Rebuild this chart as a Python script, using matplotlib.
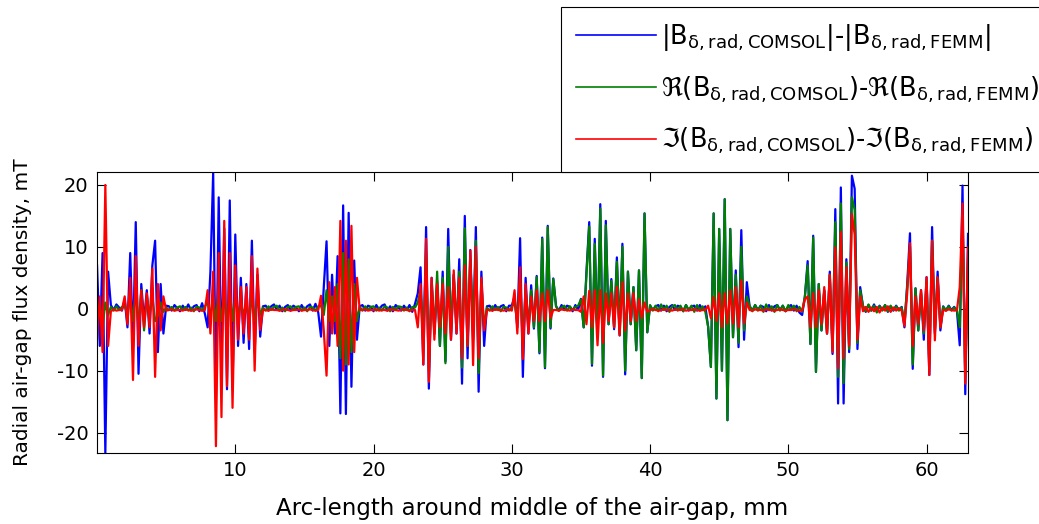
import numpy as np
import matplotlib
matplotlib.use("Agg")
from matplotlib import pyplot as plt

plt.rcParams['font.family'] = ['DejaVu Sans']
plt.rcParams['mathtext.fontset'] = 'custom'
plt.rcParams['mathtext.rm'] = 'DejaVu Sans'
plt.rcParams['mathtext.it'] = 'DejaVu Sans'
plt.rcParams['mathtext.bf'] = 'DejaVu Sans:bold'
plt.rcParams['axes.unicode_minus'] = False

# arc-length sampling step, mm
step_mm = 0.2

# |B_comsol| - |B_femm|, mT (one value every 0.2 mm, from 0 to 63 mm)
blue_mT = [
    7, -6, 9, -23.3, 6,                                                     # 0.0 - 0.8
    0.6, -0.2, 0.7, 0.2, -0.3,                                              # 1.0 - 1.8
    1.5, -3, 9, -6, 14, -10.5, 4, -2, 3, -4, 7, 11, -7, 4, -4, 0.5,         # 2.0 - 5.0
    0.4, -0.3, 0.6, 0.1, -0.4, 0.5, -0.2, 0.7, -0.3, 0.4, 0.6, -0.4, 0.9, -0.8,
    -3, 6, 22, -14.5, 18, -9, 13, -13, 17.5, -13, 12, -6, 5, -5.5, 4, -6.5, 11, -7, 5.5, -4.5, 0.4,
    0.5, -0.3, 0.4, 0.7, -0.2, 0.5, -0.4, 0.3, 0.6, -0.3, 0.5, 0.2, -0.4, 0.6, -0.2, 0.4, 0.7, -0.3, 0.8, -0.6,
    -4.5, 3.5, 10.9, -6, 5.5, -4, 8.5, -16.9, 16.7, -17, 15.5, -12.6, 7.8, -5, 0.4,
    0.6, -0.3, 0.5, 0.3, -0.4, 0.6, -0.2, 0.5, 0.7, -0.3, 0.4, -0.4, 0.6, 0.2, -0.3, 0.5, -0.2, 0.6, -0.5, 0.8,
    2.5, 6.7, -9, 13.2, -12.9, 5, -4, 4.5, -6, 6, -8.5, 12.9, -5, 5.5, -4, 8, -12.1, 15, -8, 9.5, -5, 13.2, -13.4, 6, -6, 0.4,
    0.5, -0.3, 0.6, -0.2, 0.4, 0.6, -0.4, 0.5,
    0.5, 2, -3, 11.4, -11, 5, -4, 3.8, -3.2, 5.3, -7.2, 11.5, -9.6, 13.4, -3.2, 4.9,
    0.4, -0.3, 0.6, -0.2, 0.5, 0.3, -0.4, 0.6, -0.2,
    1.6, -3, 6, 14, -9.2, 11.3, -4.6, 16.9, -11, 14.2, -2.5, 4.8, -3.3, 8.3, -4.3, 10.5, -10.6, 6, -2.5, 3.5, -6.7, 6.2, -11.2, 15.4, -3.8,
    0.5, -0.2, 0.4, 0.6, -0.3, 0.5, -0.4, 0.3, 0.6, -0.2, 0.5, 0.3, -0.4, 0.6, -0.3, 0.4, 0.5, -0.3, 0.6, -0.2, 0.4,
    -2.9, -9.4, 15.4, -14.5, 12.9, -10, 17.7, -18, 12.9, -4.6, 6.2, -6.2, 12.7, -5, 4.3,
    0.4, -0.3, 0.6, -0.2, 0.5, 0.3, -0.4, 0.6, -0.3, 0.4, 0.6, -0.2, 0.5, -0.4, 0.3, 0.6, -0.3, 0.5, -0.6,
    -1, 2, 7.7, -5.7, 11.8, -10.2, 4, -3.5, 3, -4, 6, -7.3, 16.1, -15.3, 19.6, -15.3, 8, -7, 21.5, 19.4, -6.5, 3.5,
    0.4, -0.5, 0.6, -0.3, 0.7, -0.4, 0.5, -0.2, 0.6, -0.5, 0.4, -0.3, 0.5, -0.2, 0.3,
    -3, 4, 12.2, -9.7, 3.3, -3.5, 3, -5, 5.1, -10.7, 13.2, -4, 6, -3.5,
    0.4, -0.3, 0.5, -0.2, 0.3, -0.4,
    -5.9, 19.9, -13.8, 12.1,                                                # 62.4 - 63.0
]

# Re(B_comsol) - Re(B_femm), mT
green_mT = [
    -2, 1, -3, 1, -1,
    0.3, -0.3, 0.4, -0.2, 0.3,
    0.5, -1, 2, -2, 3, -3, 3, -3.5, 2, -1, 2, -2, -1, 1, -0.5, 0.2,
    -0.2, 0.3, -0.3, 0.2, 0.4, -0.2, 0.3, -0.3, 0.2, -0.4, 0.3, 0.2, -0.3, 0.4,
    1, -1, 2, -2, 3, -2, 2, -3, 3, -2, 2, -1, 1, -1, 1, -2, 2, -2, 2, -1, 0.2,
    -0.3, 0.4, -0.2, 0.3, 0.5, -0.3, 0.2, -0.4, 0.3, 0.4, -0.2, 0.3, 0.4, -0.3, 0.2, -0.4, 0.3, 0.2, -0.3, 0.4,
    0.5, -1, 3, -2, 2, -2, 4, -8, 9, -9, 8, -7, 4, -2, 0.3,
    -0.3, 0.4, -0.2, 0.3, 0.4, -0.3, 0.2, -0.3, 0.4, 0.2, -0.4, 0.3, -0.2, 0.4, 0.3, -0.3, 0.2, -0.4, 0.3, 0.2,
    1, 3, -5, 9, -10, 4, -4, 6, -6, 5, -8.8, 10, -4, 5.5, -3, 6, -9.5, 13, -6, 8, -4, 11, -10.4, 4, -3, 0.2,
    -0.3, 0.4, -0.2, 0.3, -0.4, 0.3, 0.2, -0.3,
    0.3, 1, -2, 5, -6, 3, -3, 3, -3, 5.1, -7, 11.3, -9.4, 13.2, -3, 4.8,
    0.4, -0.3, 0.2, 0.5, -0.3, 0.4, -0.2, 0.3, 0.5,
    1.5, -3, 5.5, 13.3, -8.9, 10.5, -4.6, 16.2, -10.8, 13.5, -2.5, 4.5, -3, 7.6, -4, 10, -10, 6, -2.5, 3.5, -6.7, 6.2, -11.2, 15.4, -3.8,
    0.6, -0.3, 0.5, -0.4, 0.7, -0.2, 0.5, -0.5, 0.4, 0.6, -0.3, 0.5, -0.4, 0.6, -0.2, 0.5, -0.5, 0.6, -0.3, 0.4, -0.5,
    -2.9, -9.4, 15.4, -14.5, 12.9, -10, 17.7, -18, 12.9, -4.6, 5.5, -5.5, 10, -3.5, 2,
    0.5, -0.4, 0.6, -0.3, 0.5, -0.5, 0.7, -0.2, 0.4, -0.5, 0.6, -0.3, 0.5, -0.4, 0.6, -0.2, 0.5, -0.4, 0.3,
    -0.5, 2, 7, -5.7, 11.5, -10.2, 4, -3.5, 3, -4, 5.5, -6.5, 14, -11, 17, -12, 7.5, -6.5, 18, 16, -5.5, 3,
    0.5, -0.4, 0.7, -0.3, 0.5, -0.6, 0.4, -0.3, 0.6, -0.4, 0.5, -0.2, 0.4, -0.3, 0.2,
    -2, 3.5, 10, -9, 3.3, -3.5, 2.5, -4, 4.5, -9, 11, -3.5, 5, -3,
    0.3, -0.2, 0.4, -0.3, 0.2, -0.2,
    -3, 15, -11, 8,
]

# Im(B_comsol) - Im(B_femm), mT
red_mT = [
    -5, 2, -7, 20, -6,
    -0.4, -0.1, -0.3, -0.2, -0.2,
    2, -2.5, 5, -11.5, 8.5, -6, 3, -3, 2.5, -3, 6.5, -11, 4, -3.5, 2, -0.3,
    -0.2, -0.1, -0.3, -0.2, -0.2, -0.3, -0.1, -0.2, -0.3, -0.2, -0.1, -0.2, -0.3, -0.2,
    3, -4, 6, -22.2, 9, -17.5, 14.2, -12.5, 9, -16, 7, -5, 3.5, -4, 3.5, -5, 8.5, -10, 6.5, -3.4, -0.2,
    -0.2, -0.3, -0.1, -0.2, -0.2, -0.3, -0.2, -0.1, -0.2, -0.3, -0.2, -0.2, -0.1, -0.3, -0.2, -0.2, -0.1, -0.2, -0.3, -0.2,
    2.1, -3.5, -10.8, 4.3, -4, 3.5, -6, 14.2, -10, 11, -9, 13.4, -7, 5, -0.2,
    -0.2, -0.1, -0.3, -0.2, -0.2, -0.1, -0.3, -0.2, -0.2, -0.3, -0.1, -0.2, -0.2, -0.3, -0.2, -0.1, -0.2, -0.3, -0.2, -0.2,
    -3, 4, -9, 11.3, -11.8, 5, -5, 4, -3, 4, -4, 3.5, -5, 6.2, -4, 5, -8, 7, -6, 9.4, -9.1, 10, -8, 5, -3.5, -0.2,
    -0.2, -0.3, -0.1, -0.2, -0.2, -0.3, -0.2, -0.1,
    -0.3, 3, -4, 6.7, -8.1, 4, -4, 2, -2, 3, -2, 2.5, -2, 3, -1.5, -0.2,
    -0.2, -0.3, -0.1, -0.2, -0.2, -0.3, -0.1, -0.2, -0.2,
    -0.5, 2, -2.5, 2.9, -3, 3, -5.9, 3, -5.5, 2.5, -2, 2.5, -3, 3.5, -4.3, 4.3, -3.5, 2.5, -2, 2.5, -2, 1.5, -1.5, 1, -0.5,
    -0.2, -0.1, -0.2, -0.3, -0.2, -0.1, -0.2, -0.2, -0.3, -0.1, -0.2, -0.2, -0.1, -0.3, -0.2, -0.2, -0.1, -0.2, -0.3, -0.2, -0.2,
    0.5, -1.5, 1.9, -2, 2.5, -3, 2.5, -2.4, 3, -2.4, 3.5, -3, 4.6, -2.4, 1,
    -0.2, -0.3, -0.1, -0.2, -0.2, -0.3, -0.1, -0.2, -0.2, -0.3, -0.2, -0.1, -0.2, -0.3, -0.2, -0.2, -0.1, -0.2, -0.3,
    -0.3, 1.5, 2, -3, 2.5, -3, 3, -2.5, 3.5, -4, 5.5, -7, 9.9, -9.6, 12.4, -8, 6.7, -6, 15.3, 12, -5, 2,
    -0.4, 0.3, -0.5, 0.2, -0.4, 0.3, -0.6, 0.2, -0.3, 0.4, -0.5, 0.2, -0.3, 0.1, -0.3,
    -2.8, 2.5, 10.6, -6, 2, -2.5, 3, -3.5, 5.1, -10.7, 11, -5.1, 5.1, -3,
    -0.2, -0.3, -0.1, -0.2, -0.3, -0.2,
    3.5, 17, -12.1, 9.9,
]

arc_mm = step_mm * np.arange(len(blue_mT))

labels = [
    '|B$_{δ,rad,COMSOL}$|-|B$_{δ,rad,FEMM}$|',
    'ℜ(B$_{δ,rad,COMSOL}$)-ℜ(B$_{δ,rad,FEMM}$)',
    'ℑ(B$_{δ,rad,COMSOL}$)-ℑ(B$_{δ,rad,FEMM}$)',
]

fig = plt.figure(figsize=(10.39, 5.24), dpi=100)
ax = fig.add_axes([0.0934, 0.1355, 0.8383, 0.5363])

ax.plot(arc_mm, blue_mT, color='#0000ff', lw=1.6, label=labels[0])
ax.plot(arc_mm, green_mT, color='#008000', lw=1.6, label=labels[1])
ax.plot(arc_mm, red_mT, color='#ff0000', lw=1.6, label=labels[2])

ax.set_xlim(0, 63)
ax.set_ylim(-23.3, 22.1)
ax.set_xticks([10, 20, 30, 40, 50, 60])
ax.set_yticks([-20, -10, 0, 10, 20])
ax.tick_params(direction='in', top=True, right=True, length=6.5, width=0.8,
               labelsize=14, pad=6)
for sp in ax.spines.values():
    sp.set_linewidth(0.8)

ax.set_xlabel('Arc-length around middle of the air-gap, mm', fontsize=16.5, labelpad=12)
ax.set_ylabel('Radial air-gap flux density, mT', fontsize=14.5, labelpad=18)

leg = ax.legend(loc='upper left', bbox_to_anchor=(561 / 1039, 1 - 7 / 524),
                bbox_transform=fig.transFigure, fontsize=18.5, handlelength=3.1,
                handletextpad=0.2, labelspacing=0.82, borderpad=0.6,
                borderaxespad=0, fancybox=False, framealpha=1)
leg.get_frame().set_edgecolor('black')
leg.get_frame().set_linewidth(0.8)
for hl in leg.get_lines():
    hl.set_linewidth(1.2)

fig.savefig('out.png', dpi=100)
